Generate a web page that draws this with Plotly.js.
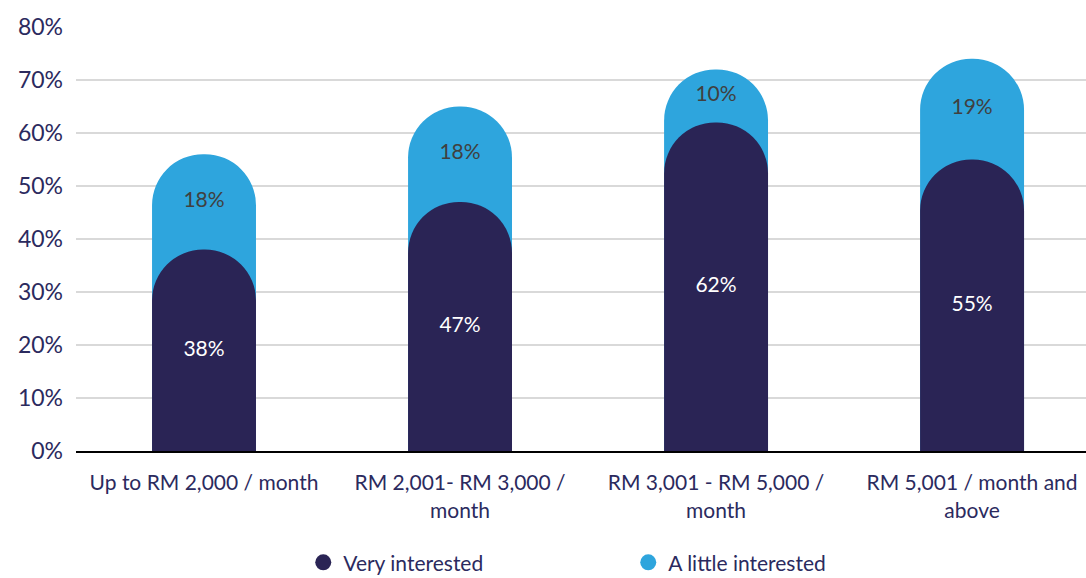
<!DOCTYPE html>
<html>
<head>
<meta charset="utf-8">
<script src="https://cdn.plot.ly/plotly-3.0.1.min.js"></script>
<style>html,body{margin:0;padding:0;background:#fff;}#chart{width:1086px;height:578px;}</style>
</head>
<body>
<div id="chart"></div>
<script>
const categories = ["Up to RM 2,000 / month", "RM 2,001- RM 3,000 /<br>month", "RM 3,001 - RM 5,000 /<br>month", "RM 5,001 / month and<br>above"];
const veryInterested = [38, 47, 62, 55];
const littleInterested = [18, 18, 10, 19];
const yTickVals = [0, 10, 20, 30, 40, 50, 60, 70, 80];
const yTickText = ["0%", "10%", "20%", "30%", "40%", "50%", "60%", "70%", "80%"];

const darkColor = "#2a2455";
const lightColor = "#2ea5dd";
const textColor = "#2b2a5e";
const FONT = "Lato, 'Noto Sans', sans-serif";

const totals = veryInterested.map((v, i) => v + littleInterested[i]);
const veryMid = veryInterested.map(v => v / 2);
const littleMid = veryInterested.map((v, i) => v + littleInterested[i] / 2);

const traces = [
  {type: "bar", x: categories, y: totals, xaxis: "x", yaxis: "y", marker: {color: lightColor, cornerradius: "50%"}, showlegend: false, hoverinfo: "skip"},
  {type: "bar", x: categories, y: veryInterested, xaxis: "x2", yaxis: "y2", marker: {color: darkColor, cornerradius: "50%"}, showlegend: false, hoverinfo: "skip"},
  {type: "scatter", mode: "text", x: categories, y: veryMid, xaxis: "x2", yaxis: "y2", text: veryInterested.map(v => v + "%"), textfont: {family: FONT, size: 21, color: "#ffffff"}, showlegend: false, hoverinfo: "skip"},
  {type: "scatter", mode: "text", x: categories, y: littleMid, xaxis: "x2", yaxis: "y2", text: littleInterested.map(v => v + "%"), textfont: {family: FONT, size: 21, color: "#404040"}, showlegend: false, hoverinfo: "skip"},
  {type: "scatter", mode: "markers", x: [null], y: [null], name: "Very interested", marker: {symbol: "circle", size: 22, color: darkColor}},
  {type: "scatter", mode: "markers", x: [null], y: [null], name: "A little interested", marker: {symbol: "circle", size: 22, color: lightColor}}
];

const layout = {
  width: 1086, height: 578,
  margin: {l: 76, r: 0, t: 27, b: 127},
  paper_bgcolor: "#ffffff", plot_bgcolor: "#ffffff",
  barmode: "overlay", bargap: 0.594,
  font: {family: FONT, color: textColor},
  xaxis: {
    type: "category", range: [-0.5, 3.445],
    showgrid: false, zeroline: false,
    showline: true, linecolor: "#000000", linewidth: 2, layer: "above traces",
    tickfont: {family: FONT, size: 21, color: textColor},
    ticklabelstandoff: 12,
    ticks: "", fixedrange: true
  },
  yaxis: {
    range: [0, 80], tickvals: yTickVals, ticktext: yTickText,
    showgrid: true, gridcolor: "#d9d9d9", gridwidth: 2,
    zeroline: false, showline: false, ticks: "",
    ticklabelstandoff: 12,
    tickfont: {family: FONT, size: 23, color: textColor}, fixedrange: true
  },
  xaxis2: {type: "category", overlaying: "x", matches: "x", range: [-0.5, 3.445], visible: false, showgrid: false, zeroline: false, fixedrange: true},
  yaxis2: {overlaying: "y", matches: "y", range: [0, 80], visible: false, showgrid: false, zeroline: false, fixedrange: true},
  showlegend: true,
  legend: {
    orientation: "h", x: 0.225, xanchor: "left",
    yref: "container", y: 0.062, yanchor: "top",
    font: {family: FONT, size: 21, color: textColor},
    entrywidth: 280, entrywidthmode: "pixels",
    itemsizing: "trace", bgcolor: "rgba(0,0,0,0)"
  }
};

Plotly.newPlot("chart", traces, layout, {displayModeBar: false, staticPlot: true});
</script>
</body>
</html>
